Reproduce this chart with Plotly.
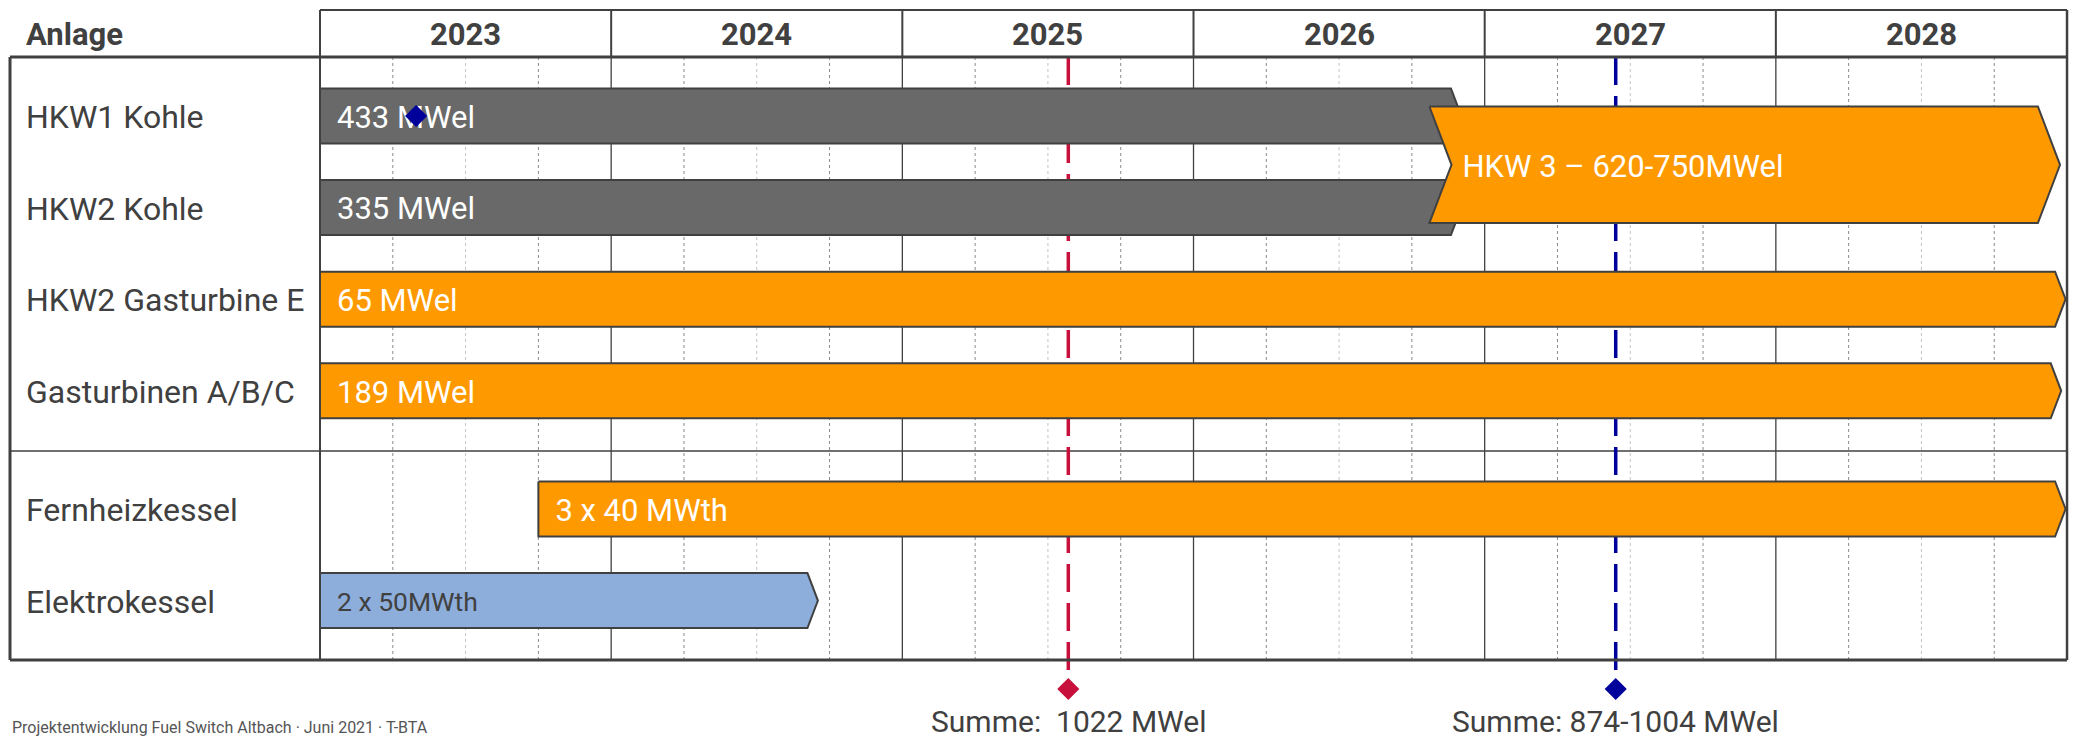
import plotly.graph_objects as go

# ---------------- data ----------------
years = [2023, 2024, 2025, 2026, 2027, 2028]
rows = ["HKW1 Kohle", "HKW2 Kohle", "HKW2 Gasturbine E", "Gasturbinen A/B/C",
        "Fernheizkessel", "Elektrokessel"]
bar_start = [2023.0, 2023.0, 2023.0, 2023.0, 2023.75, 2023.0]
bar_end = [2026.92, 2026.92, 2028.995, 2028.98, 2028.995, 2024.71]
bar_label = ["433 MWel", "335 MWel", "65 MWel", "189 MWel", "3 x 40 MWth", "2 x 50MWth"]
bar_kind = ["kohle", "kohle", "gas", "gas", "gas", "elektro"]

hkw3_rows = [0, 1]
hkw3_start = 2026.81
hkw3_end = 2028.976
hkw3_label = "HKW 3 – 620-750MWel"

marker_x = [2025.57, 2027.45]
marker_label = ["Summe:  1022 MWel", "Summe: 874-1004 MWel"]
marker_kind = ["red", "blue"]

stray_x = 2023.33
stray_row = 0

header_label = "Anlage"
footer_text = "Projektentwicklung Fuel Switch Altbach · Juni 2021 · T-BTA"

# ---------------- styles / layout helpers ----------------
W, H = 2076, 740
PX_PER_YEAR = 291.17
LABEL_COL_PX = 320.0
X0 = years[0] - LABEL_COL_PX / PX_PER_YEAR
X1 = years[0] + (W - LABEL_COL_PX) / PX_PER_YEAR
X_END = years[-1] + 1


def px2yr(px):
    return X0 + px / PX_PER_YEAR


def row_y(i):
    return 116 + i * 91.6 + (26.6 if i >= 4 else 0)


BAR_H = 55
ARROW_FRAC = 0.19
HEAD_TOP, HEAD_BOT = 10, 57
FRAME_L_PX, FRAME_BOT = 10, 660
SEP_Y = 451
LINE_TOP, MARK_Y, SUM_Y = 57, 689, 721

fill = {"kohle": "#696969", "gas": "#FF9900", "elektro": "#8DADDB"}
txtc = {"kohle": "#FFFFFF", "gas": "#FFFFFF", "elektro": "#404040"}
txts = {"kohle": 31, "gas": 31, "elektro": 26.5}
mcol = {"red": "#C8103C", "blue": "#00009A"}
DARK = "#404040"
FONT = "Roboto, 'DejaVu Sans', sans-serif"

fig = go.Figure()
shapes = []

# quarter grid lines
for yr in years:
    for q, col in ((0.25, "#8a8a8a"), (0.5, "#c4c4c4"), (0.75, "#8a8a8a")):
        shapes.append(dict(type="line", xref="x", yref="y", x0=yr + q, x1=yr + q,
                           y0=HEAD_BOT, y1=FRAME_BOT, layer="below",
                           line=dict(color=col, width=1, dash="3px,3px")))
# year boundary lines
for yr in years + [X_END]:
    shapes.append(dict(type="line", xref="x", yref="y", x0=yr, x1=yr,
                       y0=HEAD_BOT, y1=FRAME_BOT, layer="below",
                       line=dict(color=DARK, width=1.3)))
    shapes.append(dict(type="line", xref="x", yref="y", x0=yr, x1=yr,
                       y0=HEAD_TOP, y1=HEAD_BOT, layer="above",
                       line=dict(color=DARK, width=2)))
shapes.append(dict(type="line", xref="x", yref="y", x0=years[0], x1=years[0],
                   y0=HEAD_TOP, y1=FRAME_BOT, layer="above", line=dict(color=DARK, width=2)))
shapes.append(dict(type="line", xref="x", yref="y", x0=X_END, x1=X_END,
                   y0=HEAD_TOP, y1=FRAME_BOT, layer="above", line=dict(color=DARK, width=2.5)))
shapes.append(dict(type="line", xref="x", yref="y", x0=years[0], x1=X_END,
                   y0=HEAD_TOP, y1=HEAD_TOP, layer="above", line=dict(color=DARK, width=2)))
shapes.append(dict(type="line", xref="x", yref="y", x0=px2yr(FRAME_L_PX), x1=X_END,
                   y0=HEAD_BOT, y1=HEAD_BOT, layer="above", line=dict(color=DARK, width=3)))
shapes.append(dict(type="line", xref="x", yref="y", x0=px2yr(FRAME_L_PX), x1=px2yr(FRAME_L_PX),
                   y0=HEAD_BOT, y1=FRAME_BOT, layer="above", line=dict(color=DARK, width=3)))
shapes.append(dict(type="line", xref="x", yref="y", x0=px2yr(FRAME_L_PX), x1=X_END,
                   y0=FRAME_BOT, y1=FRAME_BOT, layer="above", line=dict(color=DARK, width=3)))
shapes.append(dict(type="line", xref="x", yref="y", x0=px2yr(FRAME_L_PX), x1=X_END,
                   y0=SEP_Y, y1=SEP_Y, layer="below", line=dict(color=DARK, width=1.5)))

# vertical milestone lines (behind bars)
for mx, mk in zip(marker_x, marker_kind):
    fig.add_trace(go.Scatter(x=[mx, mx], y=[LINE_TOP, MARK_Y], mode="lines",
                             line=dict(color=mcol[mk], width=3.5, dash="28px,11px"),
                             hoverinfo="skip"))


def arrow_poly(s, e, yc, h, notch=False):
    d = ARROW_FRAC * h / PX_PER_YEAR
    top, bot = yc - h / 2, yc + h / 2
    xs = [s, e - d, e, e - d, s]
    ys = [top, top, yc, bot, bot]
    if notch:
        xs.append(s + d)
        ys.append(yc)
    xs.append(s)
    ys.append(top)
    return xs, ys, d


def bar_text(x, y, text, color, size):
    fig.add_trace(go.Scatter(x=[x], y=[y], mode="text", text=[text],
                             textposition="middle right",
                             textfont=dict(family=FONT, size=size, color=color),
                             hoverinfo="skip"))


annotations = []
for i, (s, e, lab, k) in enumerate(zip(bar_start, bar_end, bar_label, bar_kind)):
    yc = row_y(i)
    xs, ys, d = arrow_poly(s, e, yc, BAR_H)
    fig.add_trace(go.Scatter(x=xs, y=ys, mode="lines", fill="toself",
                             fillcolor=fill[k], line=dict(color=DARK, width=2),
                             hoverinfo="skip"))
    bar_text(s + 17 / PX_PER_YEAR, yc + 4, lab, txtc[k], txts[k])
    annotations.append(dict(x=px2yr(24), y=yc + 1, xref="x", yref="y",
                            text=rows[i], showarrow=False, xanchor="left", yanchor="middle",
                            font=dict(family=FONT, size=32, color=DARK)))

# HKW3 spanning bar with notch
y_top = row_y(hkw3_rows[0]) - 9.5
y_bot = row_y(hkw3_rows[1]) + 15.5
yc3 = (y_top + y_bot) / 2
xs, ys, d3 = arrow_poly(hkw3_start, hkw3_end, yc3, y_bot - y_top, notch=True)
fig.add_trace(go.Scatter(x=xs, y=ys, mode="lines", fill="toself",
                         fillcolor=fill["gas"], line=dict(color=DARK, width=2),
                         hoverinfo="skip"))
bar_text(hkw3_start + d3 + 11 / PX_PER_YEAR, yc3 + 4, hkw3_label, "#FFFFFF", 31)

# stray diamond in HKW1 row (drawn over the text)
fig.add_trace(go.Scatter(x=[stray_x], y=[row_y(stray_row)], mode="markers",
                         marker=dict(symbol="diamond", size=17, color=mcol["blue"],
                                     line=dict(width=0)),
                         hoverinfo="skip"))

# milestone diamonds + labels
for mx, mk, ml in zip(marker_x, marker_kind, marker_label):
    fig.add_trace(go.Scatter(x=[mx], y=[MARK_Y], mode="markers",
                             marker=dict(symbol="diamond", size=17, color=mcol[mk],
                                         line=dict(width=0)),
                             hoverinfo="skip"))
    annotations.append(dict(x=mx, y=SUM_Y, xref="x", yref="y", text=ml.replace("  ", "&nbsp; "),
                            showarrow=False, xanchor="center", yanchor="middle",
                            font=dict(family=FONT, size=30, color=DARK)))

# header texts
annotations.append(dict(x=px2yr(24), y=(HEAD_TOP + HEAD_BOT) / 2 + 1, xref="x", yref="y",
                        text="<b>%s</b>" % header_label, showarrow=False,
                        xanchor="left", yanchor="middle",
                        font=dict(family=FONT, size=31, color=DARK)))
for yr in years:
    annotations.append(dict(x=yr + 0.5, y=(HEAD_TOP + HEAD_BOT) / 2 + 1, xref="x", yref="y",
                            text="<b>%d</b>" % yr, showarrow=False,
                            xanchor="center", yanchor="middle",
                            font=dict(family=FONT, size=31, color=DARK)))

# footer
annotations.append(dict(x=px2yr(10), y=739, xref="x", yref="y", text=footer_text,
                        showarrow=False, xanchor="left", yanchor="bottom",
                        font=dict(family=FONT, size=16, color="#555555")))

fig.update_layout(
    width=W, height=H, margin=dict(l=0, r=0, t=0, b=0, pad=0),
    paper_bgcolor="white", plot_bgcolor="white", showlegend=False,
    xaxis=dict(range=[X0, X1], visible=False, fixedrange=True),
    yaxis=dict(range=[H, 0], visible=False, fixedrange=True),
    shapes=shapes, annotations=annotations,
)

fig.write_html("out.html")
